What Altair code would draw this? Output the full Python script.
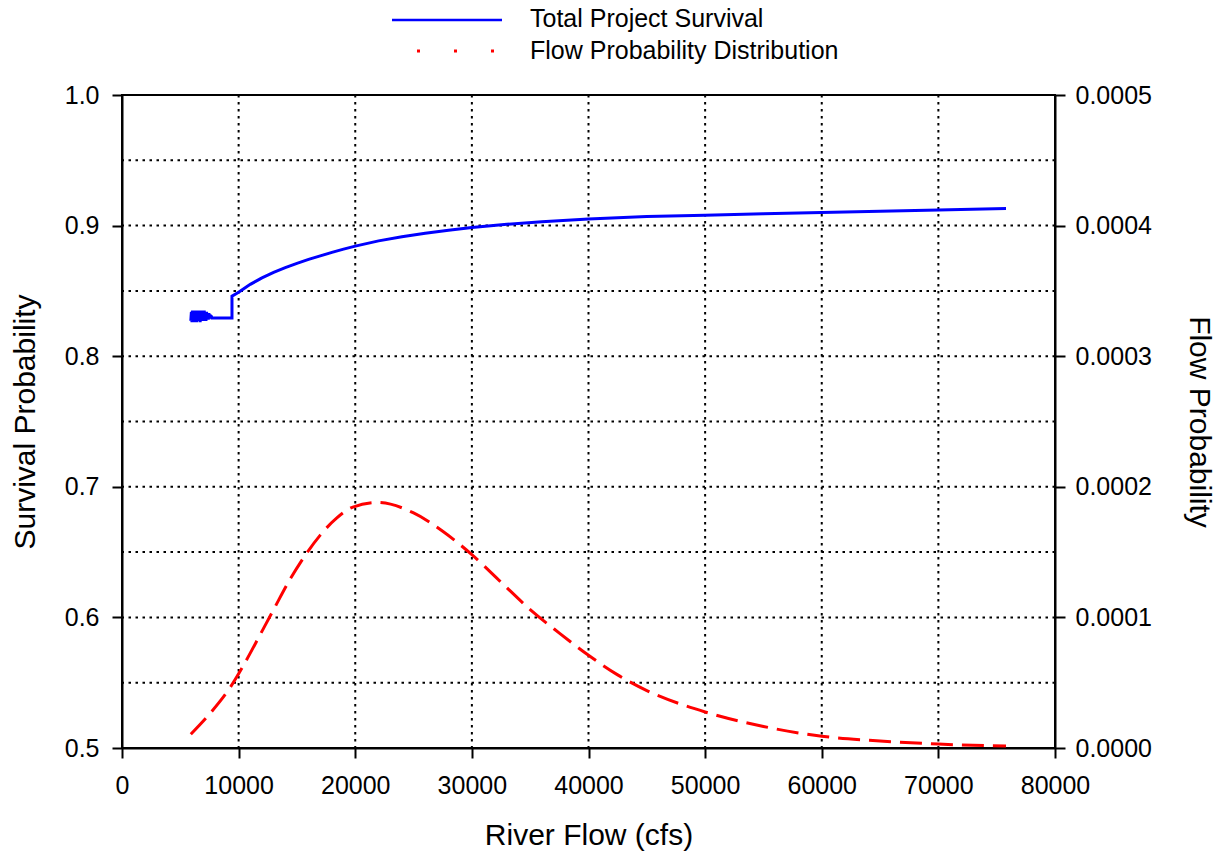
import altair as alt
import pandas as pd

FONT = "Liberation Sans"

# ---- data ----
surv_flow = [5900, 5950, 6000, 6050, 6100, 6150, 6200, 6250, 6300, 6350, 6400, 6450, 6500,
             6550, 6600, 6650, 6700, 6750, 6800, 6850, 6900, 6950, 7000, 7050, 7100, 7150,
             7200, 7250, 7300, 7350, 7400, 7450, 7500, 7550, 7600, 7650, 7700,
             9430, 9430, 10000, 10500, 11000, 11500, 12000, 13000, 14000, 15000, 16000,
             17000, 18000, 19000, 20000, 22000, 24000, 26000, 28000, 30000, 33000, 36000,
             40000, 45000, 50000, 55000, 60000, 65000, 70000, 75800]
surv_prob = [0.827, 0.834, 0.826, 0.835, 0.827, 0.834, 0.826, 0.835, 0.828, 0.834, 0.826,
             0.835, 0.827, 0.834, 0.828, 0.835, 0.826, 0.834, 0.827, 0.835, 0.828, 0.834,
             0.827, 0.835, 0.828, 0.834, 0.827, 0.834, 0.828, 0.833, 0.828, 0.833, 0.829,
             0.832, 0.829, 0.831, 0.8293,
             0.8293, 0.846, 0.849, 0.852, 0.855, 0.8575, 0.860, 0.8642, 0.8678, 0.8711, 0.8741,
             0.8768, 0.8795, 0.882, 0.8843, 0.8883, 0.8915, 0.8942, 0.8965, 0.8985, 0.901, 0.903,
             0.905, 0.907, 0.908, 0.909, 0.910, 0.911, 0.912, 0.913]

flow_x = [5900, 7600, 9300, 10400, 11800, 13000, 14400, 15900, 17000, 18400, 19800, 21900,
          25000, 27500, 30000, 32500, 35000, 37500, 40000, 42500, 45000, 50000, 55000,
          60000, 65000, 70000, 75800]
flow_p = [1.05e-5, 2.7e-5, 4.67e-5, 6.3e-5, 8.6e-5, 1.06e-4, 1.29e-4, 1.50e-4, 1.63e-4,
          1.76e-4, 1.845e-4, 1.88e-4, 1.80e-4, 1.66e-4, 1.48e-4, 1.27e-4, 1.06e-4, 8.8e-5,
          7.1e-5, 5.6e-5, 4.4e-5, 2.76e-5, 1.65e-5, 9.0e-6, 5.4e-6, 3.0e-6, 1.5e-6]

x_ticks = [0, 10000, 20000, 30000, 40000, 50000, 60000, 70000, 80000]
y_ticks = [0.5, 0.6, 0.7, 0.8, 0.9, 1.0]
y2_ticks = [0.0, 0.0001, 0.0002, 0.0003, 0.0004, 0.0005]
hgrid_vals = [0.55, 0.6, 0.65, 0.7, 0.75, 0.8, 0.85, 0.9, 0.95]
vgrid_vals = [10000, 20000, 30000, 40000, 50000, 60000, 70000]
legend_labels = ["Total Project Survival", "Flow Probability Distribution"]

surv_df = pd.DataFrame({"flow": surv_flow, "surv": surv_prob, "i": list(range(len(surv_flow)))})
flow_df = pd.DataFrame({"flow": flow_x, "p": flow_p})
hgrid_df = pd.DataFrame({"surv": hgrid_vals})
vgrid_df = pd.DataFrame({"flow": vgrid_vals})

xs = alt.Scale(domain=[0, 80000], nice=False, zero=False)
ys = alt.Scale(domain=[0.5, 1.0], nice=False, zero=False)
ys2 = alt.Scale(domain=[0, 0.0005], nice=False, zero=False)

x_axis = alt.Axis(values=x_ticks, format="d", title="River Flow (cfs)", labelFontSize=25,
                  titleFontSize=30, tickSize=10, labelPadding=15, titlePadding=22,
                  labelFlush=False, labelOverlap=False, grid=False)
y_axis = alt.Axis(values=y_ticks, format=".1f", title="Survival Probability", labelFontSize=25,
                  titleFontSize=30, tickSize=10, labelPadding=13, titlePadding=24,
                  labelFlush=False, labelOverlap=False, grid=False)
y2_axis = alt.Axis(values=y2_ticks, format=".4f", title="Flow Probability", orient="right",
                   labelFontSize=25, titleFontSize=30, tickSize=10, labelPadding=10,
                   titlePadding=32, labelFlush=False, labelOverlap=False, grid=False)

X = alt.X("flow:Q", scale=xs, axis=x_axis)
Y = alt.Y("surv:Q", scale=ys, axis=y_axis)

grid_style = dict(color="black", strokeWidth=2, strokeDash=[2.5, 4.5])

hgrid = alt.Chart(hgrid_df).mark_rule(**grid_style).encode(y=Y)
vgrid = alt.Chart(vgrid_df).mark_rule(**grid_style).encode(x=X)

surv_line = alt.Chart(surv_df).mark_line(color="#0000ff", strokeWidth=3).encode(
    x=X, y=Y, order="i:Q")

flow_line = alt.Chart(flow_df).mark_line(color="#ff0000", strokeWidth=3, strokeDash=[22, 9],
                                         interpolate="monotone").encode(
    x=X, y=alt.Y("p:Q", scale=ys2, axis=y2_axis))

# ---- legend (drawn above the plot area) ----
leg1 = pd.DataFrame({"label": [legend_labels[0]]})
leg2 = pd.DataFrame({"label": [legend_labels[1]]})
leg1_line = alt.Chart(leg1).mark_rule(color="#0000ff", strokeWidth=2.5).encode(
    x=alt.value(270), x2=alt.value(380), y=alt.value(-75))
leg2_line = alt.Chart(leg2).mark_rule(color="#ff0000", strokeWidth=3, strokeDash=[3, 34]).encode(
    x=alt.value(295), x2=alt.value(372), y=alt.value(-44))
leg1_text = alt.Chart(leg1).mark_text(align="left", baseline="middle", fontSize=25, font=FONT,
                                      color="black").encode(
    x=alt.value(408), y=alt.value(-76), text="label:N")
leg2_text = alt.Chart(leg2).mark_text(align="left", baseline="middle", fontSize=25, font=FONT,
                                      color="black").encode(
    x=alt.value(408), y=alt.value(-44), text="label:N")

left = alt.layer(hgrid, vgrid, surv_line, leg1_line, leg2_line, leg1_text, leg2_text)

chart = alt.layer(left, flow_line).resolve_scale(y="independent").properties(
    width=933, height=653,
    autosize=alt.AutoSizeParams(type="none"),
    padding={"left": 122, "top": 95, "right": 162, "bottom": 109},
).configure_axis(
    domainColor="black", domainWidth=2, tickColor="black", tickWidth=2,
    labelColor="black", titleColor="black", labelFont=FONT, titleFont=FONT,
    titleFontWeight="normal",
).configure_view(stroke="black", strokeWidth=2)

chart.save("out.html", embed_options={"renderer": "svg", "actions": False})
